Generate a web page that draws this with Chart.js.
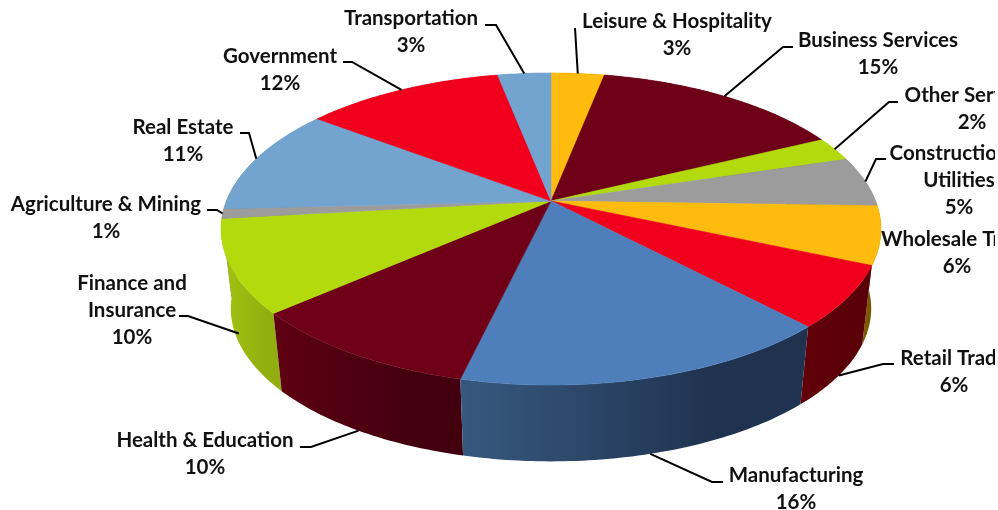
<!DOCTYPE html>
<html>
<head>
<meta charset="utf-8">
<style>
	html, body { margin: 0; padding: 0; background: #fff; overflow: hidden; }
	canvas { display: block; }
</style>
<script src="https://cdn.jsdelivr.net/npm/chart.js@4"></script>
</head>
<body>
<canvas id="pieChart" width="998" height="510"></canvas>
<script>
var sectors = ["Leisure & Hospitality", "Business Services", "Other Services", "Construction & Utilities", "Wholesale Trade", "Retail Trade", "Manufacturing", "Health & Education", "Finance and Insurance", "Agriculture & Mining", "Real Estate", "Government", "Transportation"];
// slice sizes, the printed labels are the rounded ones
var shares = [3.1, 14.7, 2.5, 5.2, 6.0, 6.4, 15.8, 9.9, 9.6, 1.0, 11.1, 11.6, 3.1];
var shareLabels = ["3%", "15%", "2%", "5%", "6%", "6%", "16%", "10%", "10%", "1%", "11%", "12%", "3%"];
var labelLines = [["Leisure & Hospitality"], ["Business Services"], ["Other Services"], ["Construction &", "Utilities"], ["Wholesale Trade"], ["Retail Trade"], ["Manufacturing"], ["Health & Education"], ["Finance and", "Insurance"], ["Agriculture & Mining"], ["Real Estate"], ["Government"], ["Transportation"]];

var topColors = ["#ffbc0e", "#6e0018", "#b2da0c", "#9c9c9c", "#ffbc0e", "#f0001c", "#4f7fbb", "#6e0018", "#b2da0c", "#9c9c9c", "#73a4cf", "#f0001c", "#73a4cf"];
var wallLeft = ["#7a5a00", "#4a0010", "#a3c30f", "#707070", "#7f5c00", "#620008", "#37597f", "#5e0012", "#a3c30f", "#707070", "#4f7fa5", "#90000f", "#4f7fa5"];
var wallRight = ["#7a5a00", "#4a0010", "#92ae10", "#707070", "#6f5200", "#5a0008", "#1f324f", "#42000e", "#92ae10", "#707070", "#4f7fa5", "#90000f", "#4f7fa5"];

// label layout: centre x, first line y
var labelX = [677, 878, 972, 959, 957, 954, 796, 205, 132, 106, 183, 280, 411];
var labelY = [21, 40, 95, 153, 239, 358, 475, 440, 283, 204, 127, 56, 18];
// leader layout: start of the line, elbow, and how far down the wall it lands
var leadStart = [[575, 28], [793, 47], [898, 102], [886, 159], null, [894, 364], [723, 482], [300, 447], [179, 316], [207, 210], [240, 133], [343, 62], [485, 25]];
var leadElbow = [null, [783, 47], [889, 102], [876, 159], null, [883, 364], [712, 482], [311, 447], [188, 316], [217, 210], [249, 133], [352, 62], [496, 25]];
var leadDepth = [0, 0, 0, 0, 0, 1, 1, 1, 0.85, 0, 0, 0, 0];

// tilted disc: circle coords (u right, v back) to the page, top face and bottom rim
var tilt = 0.1795;
var topFace = { cx: 551, cy: 201, a: 324.6, b: 151 };
var rimFace = { cx: 551, cy: 281, a: 315, b: 148 };

function project(face, u, v) {
	var w = 1 + tilt * v;
	return [face.cx + face.a * u / w, face.cy - face.b * v / w];
}

function edgePoints(arc, face) {
	var pts = [];
	var n = Math.max(4, Math.ceil((arc.endAngle - arc.startAngle) * 60));
	for (var i = 0; i <= n; i++) {
		var t = arc.startAngle + (arc.endAngle - arc.startAngle) * i / n;
		pts.push(project(face, Math.cos(t), -Math.sin(t)));
	}
	return pts;
}

function tracePoints(ctx, pts) {
	for (var i = 0; i < pts.length; i++) {
		if (i == 0) ctx.moveTo(pts[i][0], pts[i][1]);
		else ctx.lineTo(pts[i][0], pts[i][1]);
	}
}

var discPlugin = {
	id: "disc",
	beforeDatasetDraw: function(chart, args) {
		var ctx = chart.ctx;
		var arcs = args.meta.data;
		var order = arcs.map(function(a, i) { return i; });
		// back walls first so the front ones sit on top
		order.sort(function(p, q) {
			var mp = (arcs[p].startAngle + arcs[p].endAngle) / 2;
			var mq = (arcs[q].startAngle + arcs[q].endAngle) / 2;
			return Math.sin(mq) < Math.sin(mp) ? 1 : -1;
		});
		order.forEach(function(i) {
			var top = edgePoints(arcs[i], topFace);
			var rim = edgePoints(arcs[i], rimFace);
			var xs = top.concat(rim).map(function(p) { return p[0]; });
			var grad = ctx.createLinearGradient(Math.min.apply(null, xs), 0, Math.max.apply(null, xs), 0);
			grad.addColorStop(0, wallLeft[i]);
			grad.addColorStop(0.75, wallRight[i]);
			grad.addColorStop(1, wallRight[i]);
			ctx.beginPath();
			tracePoints(ctx, top.concat(rim.reverse()));
			ctx.closePath();
			ctx.fillStyle = grad;
			ctx.fill();
		});
		arcs.forEach(function(arc, i) {
			ctx.beginPath();
			tracePoints(ctx, [[topFace.cx, topFace.cy]].concat(edgePoints(arc, topFace)));
			ctx.closePath();
			ctx.fillStyle = topColors[i];
			ctx.strokeStyle = topColors[i];
			ctx.lineWidth = 0.6;
			ctx.fill();
			ctx.stroke();
		});
		return false;
	},
	afterDraw: function(chart) {
		var ctx = chart.ctx;
		var arcs = chart.getDatasetMeta(0).data;
		ctx.save();
		ctx.beginPath();
		ctx.rect(0, 0, 995, 510);
		ctx.clip();

		ctx.strokeStyle = "#000";
		ctx.lineWidth = 2;
		arcs.forEach(function(arc, i) {
			if (!leadStart[i]) return;
			var t = (arc.startAngle + arc.endAngle) / 2;
			var a = project(topFace, Math.cos(t), -Math.sin(t));
			var b = project(rimFace, Math.cos(t), -Math.sin(t));
			var d = leadDepth[i];
			ctx.beginPath();
			ctx.moveTo(leadStart[i][0], leadStart[i][1]);
			if (leadElbow[i]) ctx.lineTo(leadElbow[i][0], leadElbow[i][1]);
			ctx.lineTo(a[0] + (b[0] - a[0]) * d, a[1] + (b[1] - a[1]) * d);
			ctx.stroke();
		});

		ctx.fillStyle = "#111";
		ctx.font = "bold 20.5px Lato, 'Open Sans', sans-serif";
		ctx.textAlign = "center";
		ctx.textBaseline = "middle";
		labelLines.forEach(function(lines, i) {
			var y = labelY[i];
			lines.concat([shareLabels[i]]).forEach(function(txt) {
				ctx.fillText(txt, labelX[i], y);
				y += 27;
			});
		});
		ctx.restore();
	}
};

var pieChart = new Chart(document.getElementById("pieChart").getContext("2d"), {
	type: "pie",
	data: {
		labels: sectors,
		datasets: [{ data: shares, backgroundColor: topColors, borderWidth: 0 }]
	},
	options: {
		responsive: false,
		animation: false,
		plugins: { legend: { display: false }, tooltip: { enabled: false } }
	},
	plugins: [discPlugin]
});
</script>
</body>
</html>
